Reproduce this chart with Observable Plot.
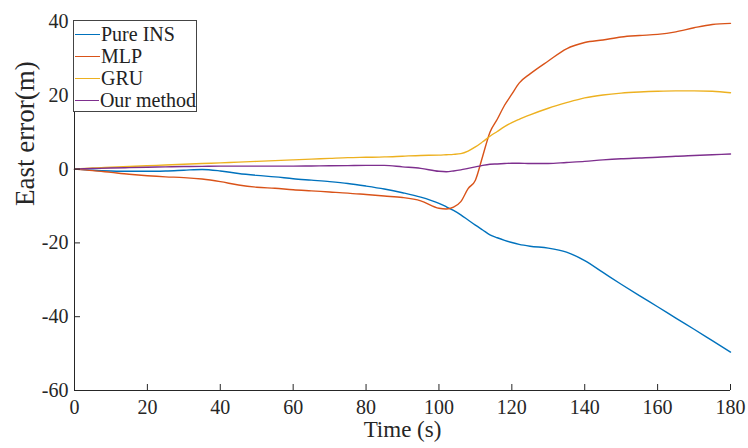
<!DOCTYPE html>
<html><head><meta charset="utf-8">
<script src="https://cdn.jsdelivr.net/npm/d3@7"></script>
<script src="https://cdn.jsdelivr.net/npm/@observablehq/plot@0.6"></script>
<style>
body{margin:0;background:#fff;}
#wrap{position:relative;width:748px;height:448px;font-family:"Liberation Serif","Times New Roman",serif;}
#wrap svg text{font-family:"Liberation Serif","Times New Roman",serif;font-variant:normal;}
#legend{position:absolute;left:73px;top:20px;width:124px;height:92px;border:1px solid #444;background:#fff;box-sizing:border-box;padding-top:2px;}
.row{display:flex;align-items:center;height:22px;font-size:20px;line-height:22px;color:#222;white-space:nowrap;}
.sw{width:25px;height:0;border-top:1.5px solid;margin-left:1px;margin-right:1px;}
</style></head><body><div id="wrap"></div>
<script>
const timeS = [0,5,10,15,20,25,30,35,40,45,50,55,60,65,70,75,80,85,90,95,100,102,104,106,108,110,112,114,116,118,120,122,125,130,135,140,145,150,155,160,165,170,175,180];
const pureINS = [0,-0.3,-0.5,-0.6,-0.6,-0.5,-0.3,-0.1,-0.5,-1.2,-1.7,-2.1,-2.6,-3.0,-3.4,-3.9,-4.6,-5.4,-6.4,-7.6,-9.3,-10.2,-11.2,-12.4,-13.8,-15.2,-16.5,-17.8,-18.6,-19.3,-19.9,-20.4,-20.9,-21.4,-22.5,-24.8,-28.0,-31.2,-34.3,-37.3,-40.4,-43.4,-46.5,-49.6];
const mlp = [0,-0.4,-0.9,-1.4,-1.8,-2.1,-2.3,-2.7,-3.4,-4.3,-4.9,-5.2,-5.6,-5.9,-6.2,-6.5,-6.9,-7.3,-7.7,-8.6,-10.6,-10.8,-10.3,-8.8,-5.3,-3.0,3.5,10.0,13.5,17.3,20.3,23.3,25.8,29.3,32.6,34.3,35.0,35.8,36.2,36.5,37.2,38.3,39.2,39.5];
const gru = [0,0.3,0.5,0.7,0.9,1.1,1.3,1.5,1.7,1.9,2.1,2.3,2.5,2.7,2.9,3.1,3.2,3.3,3.5,3.7,3.8,3.9,4.0,4.2,4.9,6.0,7.4,8.9,10.2,11.5,12.6,13.5,14.7,16.5,18.0,19.3,20.1,20.6,20.9,21.1,21.2,21.2,21.1,20.7];
const ours = [0,0.15,0.3,0.4,0.5,0.6,0.7,0.75,0.8,0.8,0.8,0.8,0.8,0.85,0.9,0.95,1.0,1.0,0.6,0.2,-0.6,-0.7,-0.5,-0.2,0.2,0.6,1.0,1.3,1.4,1.5,1.6,1.6,1.5,1.5,1.8,2.1,2.5,2.8,3.0,3.2,3.5,3.7,3.9,4.1];
const seriesNames = ["Pure INS","MLP","GRU","Our method"];
const seriesColors = ["#0072BD","#D95319","#EDB120","#7E2F8E"];
const xTicks = [0,20,40,60,80,100,120,140,160,180];
const yTicks = [-60,-40,-20,0,20,40];
const xLabel = "Time (s)";
const yLabel = "East error(m)";

const values = [pureINS, mlp, gru, ours];
const rows = [];
values.forEach((arr, si) => arr.forEach((v, i) => rows.push({t: timeS[i], v, s: seriesNames[si]})));

const W = 748, H = 448, mL = 74, mR = 18, mT = 21, mB = 58;
const plotW = W - mL - mR, plotH = H - mT - mB, tick = 6;
const axisColor = "#262626";
const font = "'Liberation Serif','Times New Roman',serif";
const fmt = d => String(d);

const chart = Plot.plot({
  width: W, height: H, marginLeft: mL, marginRight: mR, marginTop: mT, marginBottom: mB,
  style: {fontFamily: font, fontSize: "20px", color: axisColor, background: "#fff"},
  x: {domain: [0, 180]},
  y: {domain: [-60, 40]},
  color: {domain: seriesNames, range: seriesColors},
  marks: [
    Plot.axisX({ticks: xTicks, tickFormat: fmt, tickSize: 0, tickPadding: 9, label: null, fontFamily: font, fontSize: 20, fill: axisColor}),
    Plot.axisY({ticks: yTicks, tickFormat: fmt, tickSize: 0, tickPadding: 6, label: null, fontFamily: font, fontSize: 20, fill: axisColor}),
    Plot.line(rows, {x: "t", y: "v", z: "s", stroke: "s", strokeWidth: 1.4, curve: "monotone-x"}),
    Plot.tickX(xTicks, {x: d => d, insetTop: plotH - tick, stroke: axisColor}),
    Plot.tickY(yTicks, {y: d => d, insetRight: plotW - tick, stroke: axisColor}),
    Plot.ruleX([0], {stroke: axisColor}),
    Plot.ruleY([-60], {stroke: axisColor}),
    Plot.text([xLabel], {text: d => d, frameAnchor: "bottom", dy: 46, fontSize: 23, fontFamily: font, fill: axisColor}),
    Plot.text([yLabel], {text: d => d, frameAnchor: "left", rotate: -90, dx: -49, fontSize: 27, fontFamily: font, fill: axisColor})
  ]
});
const wrap = document.getElementById("wrap");
wrap.appendChild(chart);
const legend = document.createElement("div");
legend.id = "legend";
seriesNames.forEach((n, i) => {
  const r = document.createElement("div");
  r.className = "row";
  const sw = document.createElement("span");
  sw.className = "sw";
  sw.style.borderTopColor = seriesColors[i];
  const tx = document.createElement("span");
  tx.textContent = n;
  r.appendChild(sw); r.appendChild(tx);
  legend.appendChild(r);
});
wrap.appendChild(legend);
</script>
</body></html>
